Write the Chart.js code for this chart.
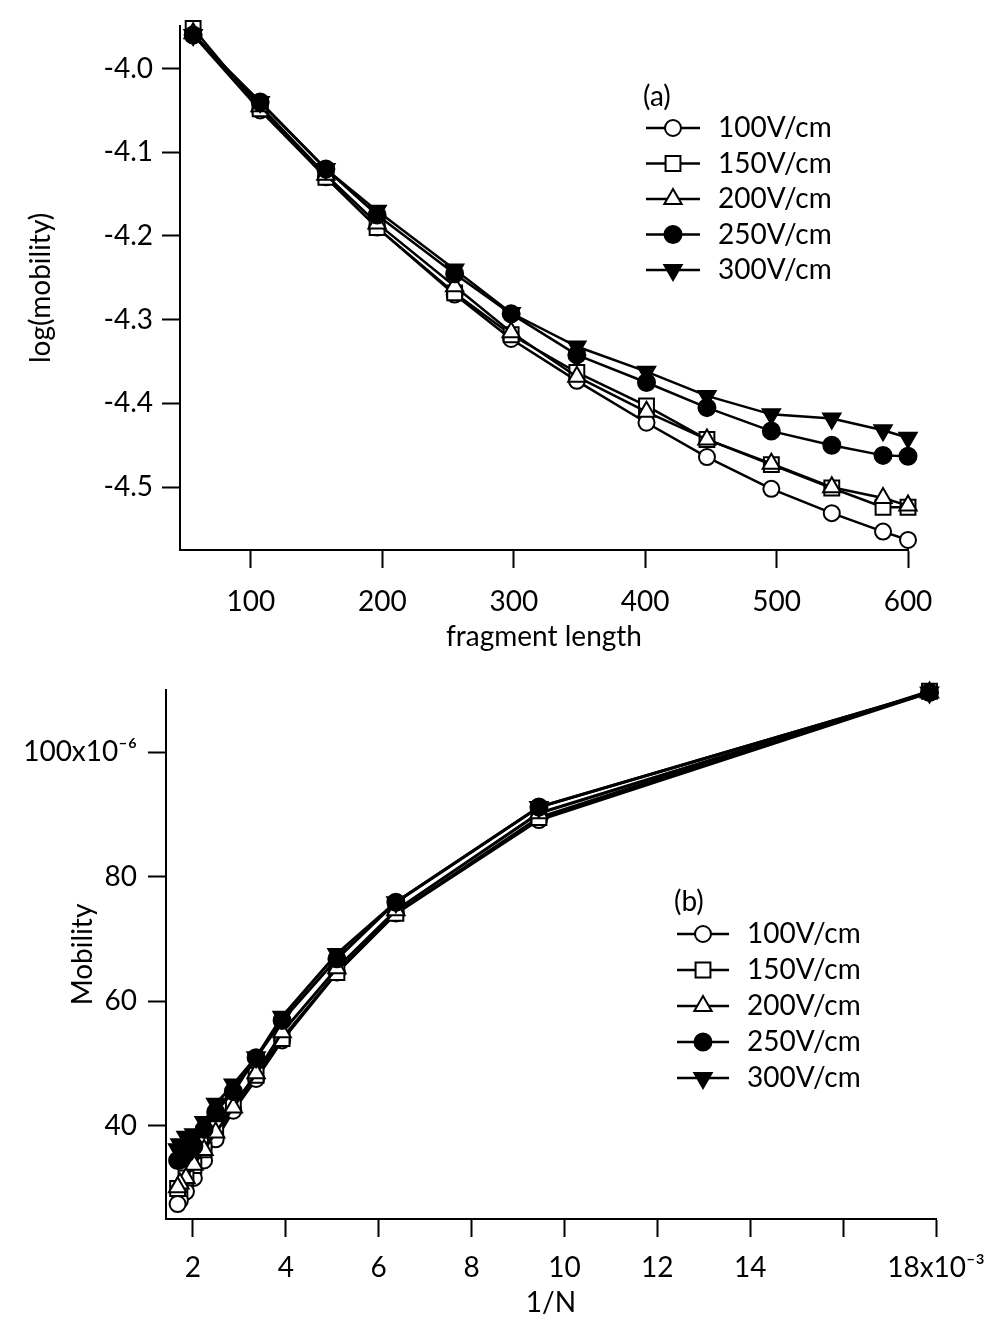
<!DOCTYPE html>
<html>
<head>
<meta charset="utf-8">
<script src="https://cdn.jsdelivr.net/npm/chart.js@4/dist/chart.umd.min.js"></script>
<style>
  body { margin: 0; background: #fff; }
  canvas { position: absolute; left: 0; }
  #top { top: 0; }
  #bottom { top: 660px; }
</style>
</head>
<body>
<canvas id="top" width="987" height="660"></canvas>
<canvas id="bottom" width="987" height="660"></canvas>
<script>
// series labels
const fields = ['100V/cm', '150V/cm', '200V/cm', '250V/cm', '300V/cm']

// (a) log(mobility) vs fragment length
const fragLength = [56, 107, 157, 196, 255, 298, 348, 401, 447, 496, 542, 581, 600]
const log100 = [-3.960, -4.050, -4.130, -4.190, -4.270, -4.323, -4.373, -4.423, -4.464, -4.502, -4.531, -4.553, -4.563]
const log150 = [-3.952, -4.048, -4.130, -4.190, -4.268, -4.318, -4.363, -4.403, -4.443, -4.473, -4.501, -4.524, -4.524]
const log200 = [-3.958, -4.045, -4.127, -4.185, -4.260, -4.315, -4.368, -4.410, -4.443, -4.472, -4.500, -4.513, -4.522]
const log250 = [-3.960, -4.040, -4.120, -4.175, -4.245, -4.293, -4.342, -4.375, -4.405, -4.433, -4.450, -4.462, -4.463]
const log300 = [-3.960, -4.040, -4.120, -4.170, -4.240, -4.292, -4.332, -4.362, -4.391, -4.413, -4.418, -4.432, -4.441]
const xTicksA = [100, 200, 300, 400, 500, 600]
const yTicksA = [-4.5, -4.4, -4.3, -4.2, -4.1, -4.0]

// (b) mobility (x10^-6) vs 1/N (x10^-3)
const invN = [17.86, 9.45, 6.37, 5.10, 3.92, 3.36, 2.87, 2.49, 2.24, 2.02, 1.85, 1.72, 1.67]
const mob100 = [109.6, 89.1, 74.1, 64.6, 53.7, 47.5, 42.4, 37.8, 34.4, 31.6, 29.4, 28.0, 27.4]
const mob150 = [109.8, 89.5, 74.1, 64.6, 54.0, 48.1, 43.4, 39.5, 36.1, 33.6, 31.6, 29.9, 29.9]
const mob200 = [109.6, 90.2, 74.6, 65.3, 55.0, 48.4, 42.9, 38.9, 36.1, 33.7, 31.6, 30.7, 30.1]
const mob250 = [109.6, 91.2, 75.9, 66.8, 56.9, 50.9, 45.5, 42.2, 39.4, 36.7, 35.5, 34.5, 34.4]
const mob300 = [109.6, 91.2, 75.9, 67.6, 57.5, 51.0, 46.6, 43.5, 40.6, 38.6, 38.2, 37.0, 36.2]
const xTicksB = [2, 4, 6, 8, 10, 12, 14, 16, 18]
const yTicksB = [40, 60, 80, 100]

const FONT = 'Lato, "Open Sans", sans-serif'

// marker styles per field
const markers = [
  { pointStyle: 'circle', pointRadius: 8, pointRotation: 0, pointBackgroundColor: '#fff' },
  { pointStyle: 'rect', pointRadius: 10.5, pointRotation: 0, pointBackgroundColor: '#fff' },
  { pointStyle: 'triangle', pointRadius: 10, pointRotation: 0, pointBackgroundColor: '#fff' },
  { pointStyle: 'circle', pointRadius: 8.5, pointRotation: 0, pointBackgroundColor: '#000' },
  { pointStyle: 'triangle', pointRadius: 10, pointRotation: 180, pointBackgroundColor: '#000' },
]

function makeDatasets(xs, series, lw) {
  return series.map((ys, i) => ({
    label: fields[i],
    data: xs.map((x, j) => ({ x: x, y: ys[j] })),
    borderColor: '#000',
    borderWidth: lw,
    pointBorderColor: '#000',
    pointBorderWidth: 2,
    pointHoverRadius: markers[i].pointRadius,
    clip: false,
    order: series.length - i, // filled markers end up on top
    ...markers[i],
  }))
}

// legend drawn inside the plot: line segment with marker, then text
const insetLegend = {
  id: 'insetLegend',
  afterDraw(chart, args, opts) {
    const ctx = chart.ctx
    ctx.save()
    ctx.font = '28px ' + FONT
    ctx.fillStyle = '#000'
    ctx.textBaseline = 'middle'
    ctx.textAlign = 'left'
    ctx.fillText(opts.title, opts.x - 3, opts.y - opts.step * 0.88)
    chart.data.datasets.forEach((ds, i) => {
      const y = opts.y + i * opts.step
      ctx.strokeStyle = '#000'
      ctx.lineWidth = 2.5
      ctx.beginPath()
      ctx.moveTo(opts.x, y)
      ctx.lineTo(opts.x + opts.seg, y)
      ctx.stroke()
      ctx.fillStyle = ds.pointBackgroundColor
      ctx.lineWidth = 2
      Chart.helpers.drawPoint(ctx, {
        pointStyle: ds.pointStyle,
        radius: ds.pointRadius,
        rotation: ds.pointRotation,
        borderWidth: 2,
      }, opts.x + opts.seg / 2, y)
      ctx.fillStyle = '#000'
      ctx.fillText(ds.label, opts.x + opts.seg + 18, y)
    })
    ctx.restore()
  },
}

function axisCommon(tickVals) {
  return {
    type: 'linear',
    grid: { display: true, drawOnChartArea: false, drawTicks: true, tickLength: 18, tickWidth: 2, tickColor: '#000' },
    border: { display: true, color: '#000', width: 2 },
    afterBuildTicks: (scale) => { scale.ticks = tickVals.map((v) => ({ value: v })) },
  }
}

new Chart(document.getElementById('top').getContext('2d'), {
  type: 'line',
  data: { datasets: makeDatasets(fragLength, [log100, log150, log200, log250, log300], 2.5) },
  options: {
    responsive: false,
    animation: false,
    devicePixelRatio: 1,
    layout: { padding: { left: 0, top: 23, right: 79, bottom: 0 } },
    plugins: {
      legend: { display: false },
      tooltip: { enabled: false },
      insetLegend: { title: '(a)', x: 646, y: 128, step: 35.5, seg: 54 },
    },
    scales: {
      x: {
        ...axisCommon(xTicksA),
        min: 46,
        max: 600,
        afterFit: (scale) => { scale.height = 110; scale.paddingLeft = 0; scale.paddingRight = 0 },
        ticks: { color: '#000', font: { size: 28, family: FONT }, padding: 17, maxRotation: 0, autoSkip: false },
        title: { display: true, text: 'fragment length', color: '#000', font: { size: 28, family: FONT }, padding: { top: 0, bottom: 6 } },
      },
      y: {
        ...axisCommon(yTicksA),
        min: -4.575,
        max: -3.949,
        afterFit: (scale) => { scale.width = 180 },
        ticks: { color: '#000', font: { size: 28, family: FONT }, padding: 9, callback: (v) => v.toFixed(1) },
        title: { display: true, text: 'log(mobility)', color: '#000', font: { size: 28, family: FONT }, padding: { top: 24, bottom: 0 } },
      },
    },
  },
  plugins: [insetLegend],
})

new Chart(document.getElementById('bottom').getContext('2d'), {
  type: 'line',
  data: { datasets: makeDatasets(invN, [mob100, mob150, mob200, mob250, mob300], 3) },
  options: {
    responsive: false,
    animation: false,
    devicePixelRatio: 1,
    layout: { padding: { left: 0, top: 30, right: 51, bottom: 0 } },
    plugins: {
      legend: { display: false },
      tooltip: { enabled: false },
      insetLegend: { title: '(b)', x: 677, y: 274, step: 36, seg: 52 },
    },
    scales: {
      x: {
        ...axisCommon(xTicksB),
        min: 1.42,
        max: 18,
        afterFit: (scale) => { scale.height = 101; scale.paddingLeft = 0; scale.paddingRight = 0 },
        ticks: {
          color: '#000', font: { size: 28, family: FONT }, padding: 14, maxRotation: 0, autoSkip: false,
          callback: (v) => (v === 16 ? '' : v === 18 ? '18x10\u207B\u00B3' : String(v)),
        },
        title: { display: true, text: '1/N', color: '#000', font: { size: 28, family: FONT }, padding: { top: 0, bottom: 0 } },
      },
      y: {
        ...axisCommon(yTicksB),
        min: 25,
        max: 110,
        afterFit: (scale) => { scale.width = 166 },
        ticks: {
          color: '#000', font: { size: 28, family: FONT }, padding: 11,
          callback: (v) => (v === 100 ? '100x10\u207B\u2076' : String(v)),
        },
        title: { display: true, text: 'Mobility', color: '#000', font: { size: 28, family: FONT }, padding: { top: 66, bottom: 0 } },
      },
    },
  },
  plugins: [insetLegend],
})
</script>
</body>
</html>
